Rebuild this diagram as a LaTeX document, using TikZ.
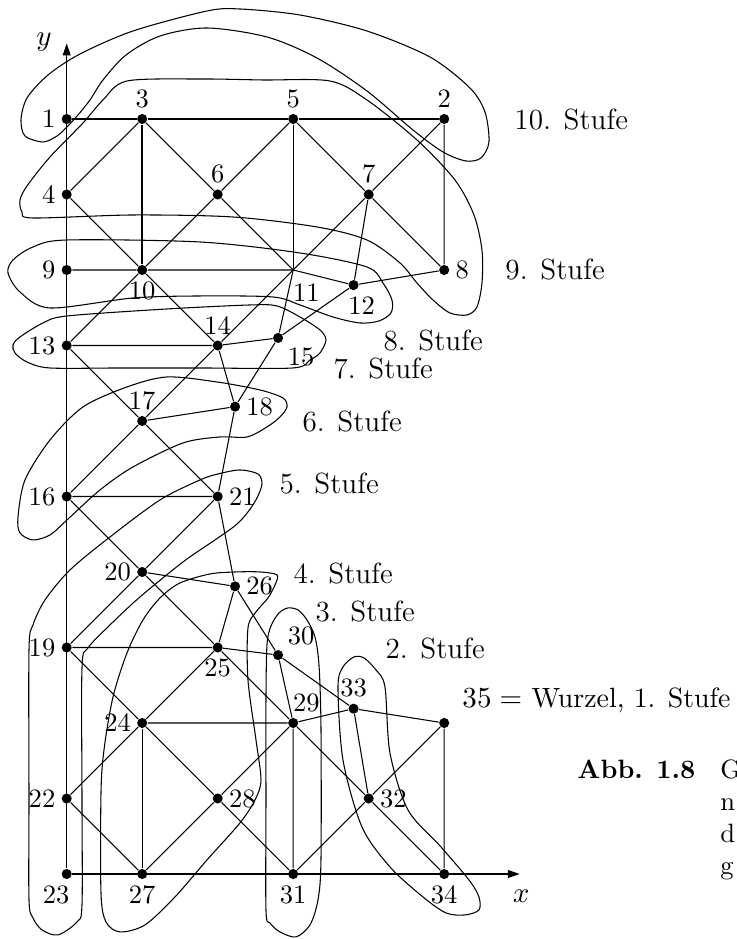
\documentclass[tikz,border=0pt]{standalone}
\usepackage{fontspec}
\usetikzlibrary{arrows.meta}
\tikzset{
  dot/.style={circle, fill=black, inner sep=0pt, minimum size=3.8pt},
  every label/.style={font=\fontsize{10}{12}\selectfont, inner sep=2pt},
  stufe/.style={anchor=west, inner sep=0pt, font=\fontsize{11}{13}\selectfont},
  capline/.style={anchor=base west, inner sep=0pt, font=\fontsize{10}{12}\selectfont},
  hull/.style={line width=0.4pt},
  axis/.style={-{Triangle[length=4.5pt,width=3pt]}},
}

\begin{document}
\begin{tikzpicture}[line width=0.4pt]
\useasboundingbox (-0.8834,-0.8609) rectangle (8.8775,11.5762);

\node[dot,label=left:1] (n1) at (0,10) {};
\node[dot,label=above:3] (n3) at (1,10) {};
\node[dot,label=above:5] (n5) at (3,10) {};
\node[dot,label=above:2] (n2) at (5,10) {};
\node[dot,label=left:4] (n4) at (0,9) {};
\node[dot,label=above:6] (n6) at (2,9) {};
\node[dot,label=above:7] (n7) at (4,9) {};
\node[dot,label=left:9] (n9) at (0,8) {};
\node[dot,label=below:10] (n10) at (1,8) {};
\node[coordinate,label={[xshift=5pt,yshift=-3pt]below:11}] (n11) at (3,8) {};
\node[dot,label=right:8] (n8) at (5,8) {};
\node[dot,label={[xshift=3pt]below:12}] (n12) at (3.8,7.8) {};
\node[dot,label=left:13] (n13) at (0,7) {};
\node[dot,label=above:14] (n14) at (2,7) {};
\node[dot,label=below right:15] (n15) at (2.8,7.1) {};
\node[dot,label=above:17] (n17) at (1,6) {};
\node[dot,label=right:18] (n18) at (2.23,6.19) {};
\node[dot,label=left:16] (n16) at (0,5) {};
\node[dot,label=right:21] (n21) at (2,5) {};
\node[dot,label=left:20] (n20) at (1,4) {};
\node[dot,label=right:26] (n26) at (2.23,3.81) {};
\node[dot,label=left:19] (n19) at (0,3) {};
\node[dot,label=below:25] (n25) at (2,3) {};
\node[dot,label=above right:30] (n30) at (2.8,2.9) {};
\node[dot,label=left:24] (n24) at (1,2) {};
\node[dot,label={[xshift=5pt]above:29}] (n29) at (3,2) {};
\node[dot,label=above:33] (n33) at (3.8,2.19) {};
\node[dot] (n35) at (5,2) {};
\node[dot,label=left:22] (n22) at (0,1) {};
\node[dot,label=right:28] (n28) at (2,1) {};
\node[dot,label=right:32] (n32) at (4,1) {};
\node[dot,label={[xshift=-4pt]below:23}] (n23) at (0,0) {};
\node[dot,label=below:27] (n27) at (1,0) {};
\node[dot,label=below:31] (n31) at (3,0) {};
\node[dot,label=below:34] (n34) at (5,0) {};

\coordinate (ytip) at (0,11);
\coordinate (xtip) at (6,0);
\draw[axis] (n23) -- (ytip);
\draw[axis] (n23) -- (xtip);
\node[font=\fontsize{11}{13}\selectfont] (ylab) at (-0.3,11.02) {$y$};
\node[font=\fontsize{11}{13}\selectfont] (xlab) at (6.02,-0.3) {$x$};

\draw (n1) -- (n3) -- (n5) -- (n2);
\draw (n4) -- (n3) -- (n6) -- (n5) -- (n7) -- (n2) -- (n8);
\draw[line width=0.8pt] (n3) -- (n10);
\draw (n5) -- (n11);
\draw (n4) -- (n10) -- (n6) -- (n11) -- (n7) -- (n8);
\draw (n9) -- (n10) -- (n11) -- (n12) -- (n8);
\draw (n7) -- (n12) -- (n15) -- (n11);
\draw (n13) -- (n10) -- (n14);
\draw (n11) -- (n14) -- (n17) -- (n16);
\draw (n13) -- (n14) -- (n15) -- (n18) -- (n17);
\draw (n13) -- (n17) -- (n21) -- (n18) -- (n14);
\draw (n16) -- (n21) -- (n20) -- (n19);
\draw (n16) -- (n20) -- (n26) -- (n21);
\draw (n20) -- (n25) -- (n29) -- (n32);
\draw (n26) -- (n25) -- (n19);
\draw (n26) -- (n30) -- (n25);
\draw (n19) -- (n24) -- (n28) -- (n31);
\draw (n25) -- (n24) -- (n22) -- (n27);
\draw (n24) -- (n27);
\draw (n24) -- (n29) -- (n28) -- (n27);
\draw (n30) -- (n29) -- (n31);
\draw (n30) -- (n33) -- (n35) -- (n32) -- (n31);
\draw (n29) -- (n33) -- (n32) -- (n34) -- (n35);

\begin{scope}[shift={(-0.8834,11.5762)}, x=0.013245cm, y=-0.013245cm]
\draw[hull] plot[smooth cycle] coordinates {(43,142) (25,136) (21,120) (27,98) (48,75) (80,54) (133,31) (207,11) (240,9) (300,15) (367,31) (430,57) (470,88) (485,112) (489,142) (481,158) (466,161) (443,152) (413,130) (367,91) (317,58) (267,37) (207,28) (160,36) (126,55) (103,80) (90,100) (78,115) (66,128) (57,136)};
\draw[hull] plot[smooth cycle] coordinates {(127,81) (200,79) (263,80) (330,81) (367,100) (417,140) (455,180) (474,215) (482,250) (482,283) (477,307) (467,315) (450,313) (433,300) (417,283) (400,263) (367,240) (317,227) (233,217) (133,215) (33,218) (22,212) (20,200) (27,186) (50,157) (83,123) (103,100)};
\draw[hull] plot[smooth cycle] coordinates {(67,240) (200,242) (300,253) (367,267) (383,283) (392,300) (391,313) (379,321) (360,323) (333,317) (300,305) (273,297) (200,296) (133,298) (50,308) (20,292) (8,273) (13,260) (33,247)};
\draw[hull] plot[smooth cycle] coordinates {(67,316) (167,309) (250,305) (277,306) (300,317) (320,330) (326,340) (320,353) (310,360) (293,368) (200,368) (120,368) (50,368) (27,362) (15,353) (13,345) (20,337) (43,323)};
\draw[hull] plot[smooth cycle] coordinates {(50,535) (33,540) (20,533) (18,517) (25,480) (50,440) (83,407) (127,387) (167,377) (217,382) (260,390) (283,398) (287,407) (280,417) (267,427) (247,437) (220,437) (183,443) (133,467) (100,490) (67,520)};
\draw[hull] plot[smooth cycle] coordinates {(218,474) (240,470) (258,474) (262,484) (257,498) (248,512) (236,525) (215,540) (183,562) (140,597) (110,625) (88,648) (82,668) (82,800) (82,905) (77,922) (58,935) (42,930) (33,918) (29,900) (29,800) (29,650) (33,625) (45,600) (70,570) (110,537) (160,500) (200,480)};
\draw[hull] plot[smooth cycle] coordinates {(180,583) (210,574) (236,572) (260,572) (277,575) (275,585) (268,598) (256,612) (248,628) (248,680) (256,740) (261,780) (255,800) (240,823) (207,860) (175,897) (145,925) (120,932) (106,922) (101,893) (101,793) (104,750) (113,697) (127,653) (143,620) (160,598)};
\draw[hull] plot[smooth cycle] coordinates {(266,910) (266,800) (266,700) (267,645) (271,626) (279,613) (288,608) (298,610) (307,620) (315,637) (319,665) (321,727) (321,860) (318,900) (310,925) (296,937) (280,932) (270,923)};
\draw[hull] plot[smooth cycle] coordinates {(338,687) (343,667) (354,657) (364,658) (376,670) (385,687) (390,753) (408,810) (441,847) (469,880) (479,897) (479,910) (465,915) (446,913) (423,897) (390,867) (362,827) (343,760)};

\node[stufe] (s10) at (514,120) {10. Stufe};
\node[stufe] (s9) at (505,270) {9. Stufe};
\node[stufe] (s8) at (383,341) {8. Stufe};
\node[stufe] (s7) at (333,369) {7. Stufe};
\node[stufe] (s6) at (302,422) {6. Stufe};
\node[stufe] (s5) at (279,484) {5. Stufe};
\node[stufe] (s4) at (293,574) {4. Stufe};
\node[stufe] (s3) at (315,612) {3. Stufe};
\node[stufe] (s2) at (385,649) {2. Stufe};
\node[stufe, font=\fontsize{10.5}{13}\selectfont] (s1) at (462,700) {$35 =$ Wurzel, 1. Stufe};
\node[capline] (abb) at (577,779) {\textbf{Abb. 1.8}};
\node[capline] (cap1) at (720,779) {G};
\node[capline] (cap2) at (720,811) {n};
\node[capline] (cap3) at (720,843) {d};
\node[capline] (cap4) at (720,875) {g};
\end{scope}
\end{tikzpicture}
\end{document}
